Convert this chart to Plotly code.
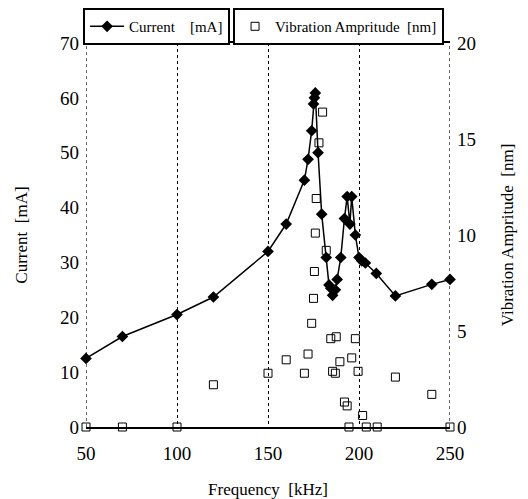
import plotly.graph_objects as go

# Current [mA] vs frequency [kHz]
current_freq = [50, 70, 100, 120, 150, 160, 170, 172, 174, 175, 175.5, 176, 177.5,
                179.5, 182, 183.5, 184.5, 185.5, 187, 188, 190, 192, 193.5, 195,
                196, 198, 200, 201.5, 203.5, 209.5, 220, 240, 250]
current_ma = [12.5, 16.5, 20.5, 23.7, 32, 37, 45, 48.8, 54, 58.9, 60, 60.9, 50,
              38.8, 30.9, 25.9, 25.3, 24, 25, 26.9, 30.9, 38, 42, 37,
              42, 35, 30.9, 30.3, 29.9, 28, 23.9, 26, 26.9]

# Vibration amplitude [nm] vs frequency [kHz]
vib_freq = [50, 70, 100, 120, 150, 160, 170, 172, 174, 175, 175.5, 176, 176.5,
            178, 180, 182, 184.5, 185.5, 187, 187.5, 189.5, 192, 193.5, 194.5,
            196, 198, 199.5, 202, 204, 210, 220, 240, 250]
vib_nm = [0, 0, 0, 2.2, 2.8, 3.5, 2.8, 3.8, 5.4, 6.7, 8.1, 10.1, 11.9,
          14.8, 16.4, 9.2, 4.6, 2.9, 2.8, 4.7, 3.4, 1.3, 1.1, 0,
          3.6, 4.6, 2.9, 0.6, 0, 0, 2.6, 1.7, 0]

freq_range = [50, 250]

font = "Liberation Serif, Times New Roman, serif"
sp = "\u00a0"

fig = go.Figure()
fig.add_trace(go.Scatter(
    x=current_freq, y=current_ma, mode="lines+markers",
    name="Current" + sp * 4 + "[mA]", showlegend=True,
    line=dict(color="black", width=1.5),
    marker=dict(symbol="diamond", size=9, color="black"),
    cliponaxis=False, legend="legend"))
fig.add_trace(go.Scatter(
    x=vib_freq, y=vib_nm, mode="markers", yaxis="y2",
    name="Vibration Ampritude" + sp * 2 + "[nm]", showlegend=True,
    marker=dict(symbol="square-open", size=8, color="black",
                line=dict(width=1)),
    cliponaxis=False, legend="legend2"))

# dotted sides of the frame (plotly drops the grid lines at the range ends)
for fx in freq_range:
    fig.add_vline(x=fx, line=dict(color="black", width=1.2, dash="dot"), layer="below")

# the page body adds an 8px margin, so the figure is 8px smaller
fig.update_layout(
    width=520, height=491, showlegend=True,
    margin=dict(l=78, r=78, t=35, b=72, autoexpand=False),
    paper_bgcolor="white", plot_bgcolor="white",
    font=dict(family=font, color="black", size=18),
    xaxis=dict(range=freq_range, tickvals=[50, 100, 150, 200, 250],
               showgrid=True, gridcolor="black", griddash="dot", gridwidth=1,
               showline=True, linecolor="black", linewidth=1.5, mirror=True,
               zeroline=False, ticks="", tickfont=dict(size=19),
               ticklabelstandoff=8, automargin=False,
               title=dict(text="Frequency" + sp * 2 + "[kHz]",
                          font=dict(size=17, color="black"), standoff=22)),
    yaxis=dict(range=[0, 70], dtick=10, showgrid=False, zeroline=False,
               showline=False, ticks="", tickfont=dict(size=19),
               ticklabelstandoff=6, automargin=False,
               title=dict(text="Current" + sp * 2 + "[mA]",
                          font=dict(size=17, color="black"), standoff=28)),
    yaxis2=dict(range=[0, 20], dtick=5, overlaying="y", side="right",
                showgrid=False, zeroline=False, showline=False, ticks="",
                tickfont=dict(size=19), ticklabelstandoff=6, automargin=False,
                title=dict(text="Vibration Ampritude" + sp * 2 + "[nm]",
                           font=dict(size=17, color="black"), standoff=26)),
    legend=dict(x=-0.008, y=1.091, xanchor="left", yanchor="top",
                bordercolor="black", borderwidth=2, bgcolor="white",
                font=dict(size=15), itemwidth=34, tracegroupgap=0),
    legend2=dict(x=0.404, y=1.091, xanchor="left", yanchor="top",
                 bordercolor="black", borderwidth=2, bgcolor="white",
                 font=dict(size=15), itemwidth=30, tracegroupgap=0),
)

fig.write_html("out.html")
